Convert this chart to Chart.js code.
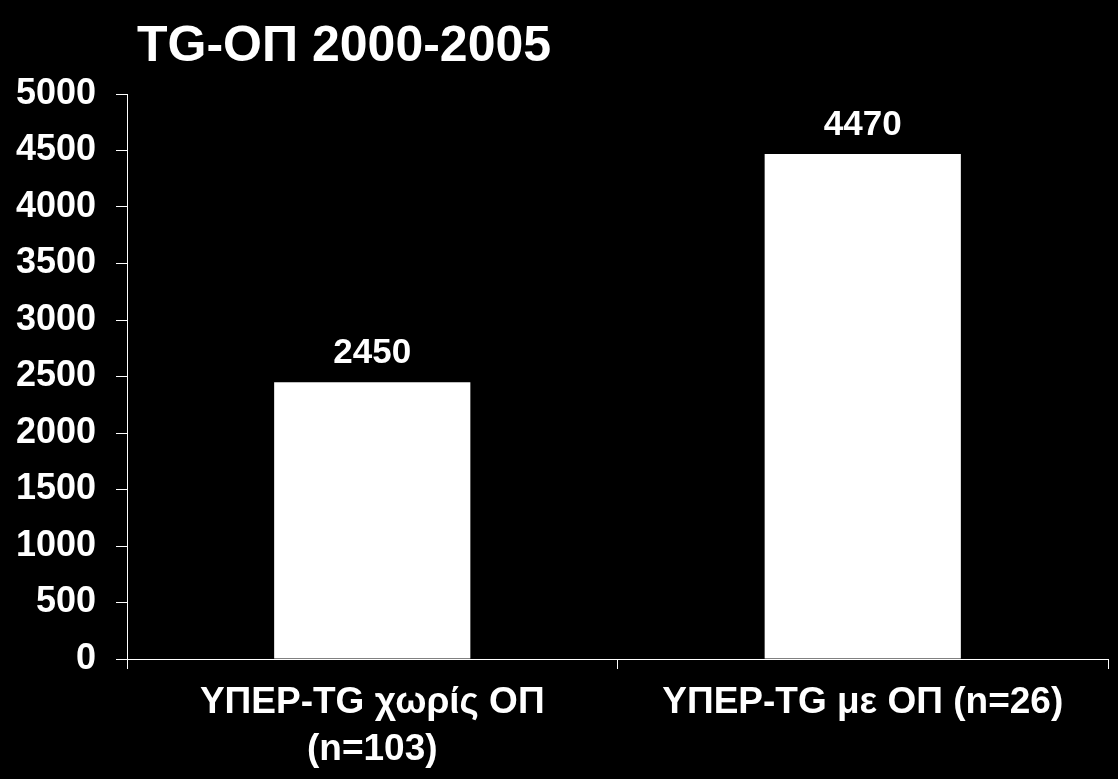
<!DOCTYPE html>
<html>
<head>
<meta charset="utf-8">
<script src="https://cdn.jsdelivr.net/npm/chart.js@4"></script>
<style>
  html, body { margin: 0; padding: 0; background: #000; }
  #wrap { position: relative; width: 1118px; height: 779px; }
  #title {
    position: absolute; left: 137px; top: 19px; margin: 0;
    font: bold 50px "Liberation Sans", Arial, sans-serif; line-height: 1;
    color: #fff; white-space: nowrap;
  }
</style>
</head>
<body>
<div id="wrap">
  <h1 id="title">TG-ΟΠ 2000-2005</h1>
  <canvas id="chart" width="1118" height="779"></canvas>
</div>
<script>
const categories = [['ΥΠΕΡ-TG χωρίς ΟΠ', '(n=103)'], 'ΥΠΕΡ-TG με ΟΠ (n=26)'];
const values = [2450, 4470];
const yTicks = [0, 500, 1000, 1500, 2000, 2500, 3000, 3500, 4000, 4500, 5000];

const font = 'Liberation Sans, Arial, sans-serif';

// value labels above each bar
const barLabels = {
  id: 'barLabels',
  afterDatasetsDraw(chart) {
    const ctx = chart.ctx;
    const meta = chart.getDatasetMeta(0);
    ctx.save();
    ctx.fillStyle = '#fff';
    ctx.font = 'bold 35px ' + font;
    ctx.textAlign = 'center';
    ctx.textBaseline = 'bottom';
    meta.data.forEach((bar, i) => {
      ctx.fillText(values[i], bar.x, bar.y - 11);
    });
    ctx.restore();
  }
};

new Chart(document.getElementById('chart').getContext('2d'), {
  type: 'bar',
  data: {
    labels: categories,
    datasets: [{
      data: values,
      backgroundColor: '#fff',
      borderWidth: 0,
      categoryPercentage: 1,
      barPercentage: 0.4
    }]
  },
  options: {
    responsive: false,
    animation: false,
    layout: { padding: { top: 94, right: 10, left: 0, bottom: 0 } },
    plugins: {
      legend: { display: false },
      tooltip: { enabled: false },
      title: { display: false }
    },
    scales: {
      x: {
        grid: { display: true, drawOnChartArea: false, color: '#fff', tickLength: 10, lineWidth: 1 },
        border: { color: '#fff', width: 1 },
        ticks: {
          color: '#fff',
          font: { family: font, size: 37, weight: 'bold', lineHeight: 1.27 },
          padding: 10,
          maxRotation: 0
        },
        afterFit(scale) { scale.height = 120; }
      },
      y: {
        min: 0,
        max: 5000,
        grid: { display: true, drawOnChartArea: false, color: '#fff', tickLength: 11, lineWidth: 1 },
        border: { color: '#fff', width: 1 },
        afterBuildTicks(scale) { scale.ticks = yTicks.map(v => ({ value: v })); },
        ticks: {
          color: '#fff',
          font: { family: font, size: 36, weight: 'bold' },
          padding: 20,
          callback: v => String(v)
        },
        afterFit(scale) { scale.width = 127; }
      }
    }
  },
  plugins: [barLabels]
});
</script>
</body>
</html>
